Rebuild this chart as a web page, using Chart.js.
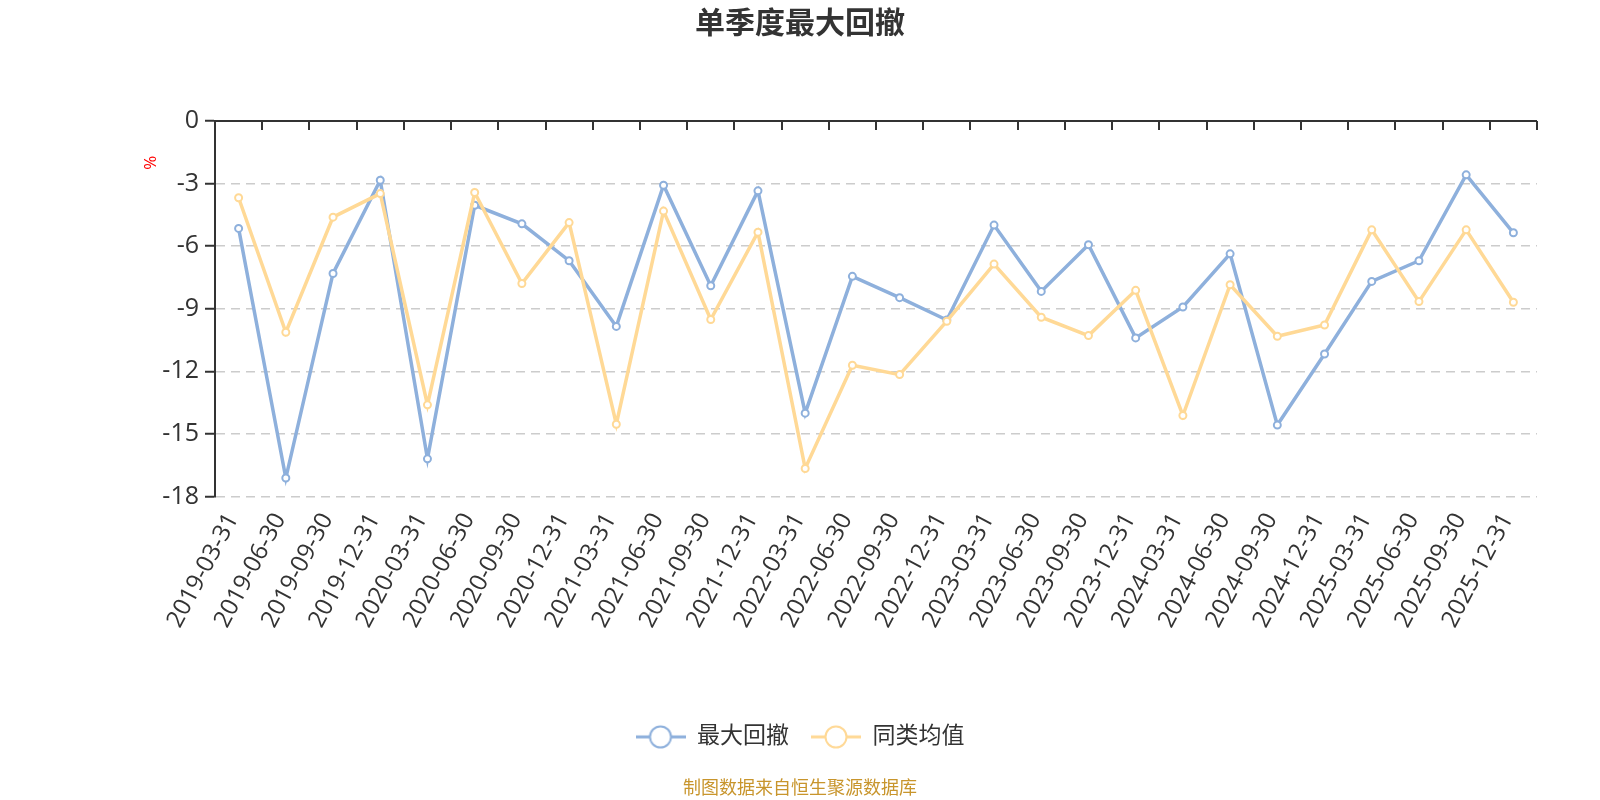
<!DOCTYPE html>
<html>
<head>
<meta charset="utf-8">
<title>单季度最大回撤</title>
<script src="https://cdn.jsdelivr.net/npm/chart.js@4/dist/chart.umd.min.js"></script>
<style>
  body { margin: 0; background: #fff; }
  #wrap { width: 1600px; height: 800px; }
</style>
</head>
<body>
<div id="wrap"><canvas id="chart" width="1600" height="800"></canvas></div>
<script>
// Data
var QUARTERS = [
  '2019-03-31', '2019-06-30', '2019-09-30', '2019-12-31',
  '2020-03-31', '2020-06-30', '2020-09-30', '2020-12-31',
  '2021-03-31', '2021-06-30', '2021-09-30', '2021-12-31',
  '2022-03-31', '2022-06-30', '2022-09-30', '2022-12-31',
  '2023-03-31', '2023-06-30', '2023-09-30', '2023-12-31',
  '2024-03-31', '2024-06-30', '2024-09-30', '2024-12-31',
  '2025-03-31', '2025-06-30', '2025-09-30', '2025-12-31'
];

var MAX_DRAWDOWN = [
  -5.15, -17.12, -7.31, -2.84, -16.20, -4.04, -4.93, -6.70,
  -9.85, -3.08, -7.90, -3.35, -14.01, -7.45, -8.47, -9.54,
  -4.99, -8.17, -5.93, -10.40, -8.92, -6.37, -14.58, -11.17,
  -7.69, -6.70, -2.58, -5.36
];

var PEER_AVERAGE = [
  -3.68, -10.13, -4.61, -3.48, -13.61, -3.43, -7.79, -4.87,
  -14.54, -4.32, -9.52, -5.33, -16.66, -11.71, -12.16, -9.60,
  -6.86, -9.41, -10.29, -8.12, -14.12, -7.85, -10.32, -9.78,
  -5.22, -8.66, -5.22, -8.69
];

var SERIES_NAMES = ['最大回撤', '同类均值'];
var Y_MIN = -18;
var Y_MAX = 0;
var Y_STEP = 3;

var BLUE = '#8eb0dc';
var YELLOW = '#ffd996';
var FONT = "'Open Sans', 'Noto Sans CJK SC', sans-serif";

// legend symbol: short line with a hollow circle, like the original
function legendSymbol(color) {
  var c = document.createElement('canvas');
  c.width = 50;
  c.height = 26;
  var g = c.getContext('2d');
  g.strokeStyle = color;
  g.lineWidth = 3;
  g.beginPath();
  g.moveTo(0, 13);
  g.lineTo(50, 13);
  g.stroke();
  g.beginPath();
  g.arc(25, 13, 10.5, 0, Math.PI * 2);
  g.fillStyle = '#fff';
  g.fill();
  g.lineWidth = 2;
  g.stroke();
  return c;
}

// top axis line with inward ticks, plus the red unit label
var topAxisPlugin = {
  id: 'topAxis',
  afterDraw: function (chart) {
    var ctx = chart.ctx;
    var x = chart.scales.x;
    var y = chart.scales.y;
    var y0 = y.getPixelForValue(0);
    var area = chart.chartArea;

    ctx.save();
    ctx.strokeStyle = '#333';
    ctx.lineWidth = 2;
    ctx.beginPath();
    ctx.moveTo(area.left, y0);
    ctx.lineTo(area.right, y0);
    for (var i = 1; i <= QUARTERS.length; i++) {
      var px = Math.round(x.getPixelForValue(i - 0.5));
      ctx.moveTo(px, y0);
      ctx.lineTo(px, y0 + 9);
    }
    ctx.stroke();

    ctx.translate(area.left - 64, y.getPixelForValue(-2));
    ctx.rotate(-Math.PI / 2);
    ctx.fillStyle = '#ff0000';
    ctx.font = '17px ' + FONT;
    ctx.textAlign = 'center';
    ctx.textBaseline = 'middle';
    ctx.fillText('%', 0, 0);
    ctx.restore();
  }
};

var chart = new Chart(document.getElementById('chart'), {
  type: 'line',
  data: {
    labels: QUARTERS,
    datasets: [
      {
        label: SERIES_NAMES[0],
        data: MAX_DRAWDOWN,
        borderColor: BLUE,
        borderWidth: 3.5,
        pointRadius: 3.5,
        pointBorderWidth: 2,
        pointBackgroundColor: '#fff',
        pointBorderColor: BLUE,
        tension: 0,
        order: 1
      },
      {
        label: SERIES_NAMES[1],
        data: PEER_AVERAGE,
        borderColor: YELLOW,
        borderWidth: 3.5,
        pointRadius: 3.5,
        pointBorderWidth: 2,
        pointBackgroundColor: '#fff',
        pointBorderColor: YELLOW,
        tension: 0,
        order: 0
      }
    ]
  },
  plugins: [topAxisPlugin],
  options: {
    responsive: false,
    animation: false,
    devicePixelRatio: 1,
    events: [],
    // equal side padding keeps title, legend and source centred on the page
    layout: { padding: { left: 63, right: 63, top: 0, bottom: 0 } },
    plugins: {
      tooltip: { enabled: false },
      title: {
        display: true,
        text: '单季度最大回撤',
        color: '#333',
        font: { family: FONT, size: 30, weight: 'bold' },
        padding: { top: 6, bottom: 79 }
      },
      legend: {
        position: 'bottom',
        labels: {
          usePointStyle: true,
          pointStyleWidth: 50,
          padding: 22,
          color: '#333',
          font: { family: FONT, size: 23 },
          generateLabels: function (c) {
            return c.data.datasets.map(function (ds, i) {
              return {
                text: ds.label,
                datasetIndex: i,
                pointStyle: legendSymbol(ds.borderColor),
                fillStyle: ds.borderColor,
                strokeStyle: ds.borderColor,
                fontColor: '#333',
                lineWidth: 0,
                hidden: false
              };
            });
          }
        }
      },
      subtitle: {
        display: true,
        position: 'bottom',
        text: '制图数据来自恒生聚源数据库',
        color: '#c8952c',
        font: { family: FONT, size: 18 },
        padding: { top: 20, bottom: 0 }
      }
    },
    scales: {
      x: {
        offset: true,
        grid: { display: false, drawTicks: false, tickLength: 0, offset: true },
        border: { display: false },
        ticks: {
          autoSkip: false,
          minRotation: 62,
          maxRotation: 62,
          padding: 12,
          labelOffset: -6,
          color: '#333',
          font: { family: FONT, size: 24 }
        },
        afterFit: function (scale) { scale.height = 207; }
      },
      y: {
        min: Y_MIN,
        max: Y_MAX,
        grid: {
          color: function (c) { return c.tick && c.tick.value === 0 ? 'rgba(0,0,0,0)' : '#ccc'; },
          lineWidth: 1.5,
          tickLength: 10,
          tickColor: '#333',
          tickWidth: 2,
          tickBorderDash: []
        },
        border: { display: true, color: '#333', width: 2, dash: [9, 6] },
        ticks: {
          stepSize: Y_STEP,
          padding: 6,
          color: '#333',
          font: { family: FONT, size: 25 }
        },
        afterFit: function (scale) { scale.width = 152; }
      }
    }
  }
});
</script>
</body>
</html>
